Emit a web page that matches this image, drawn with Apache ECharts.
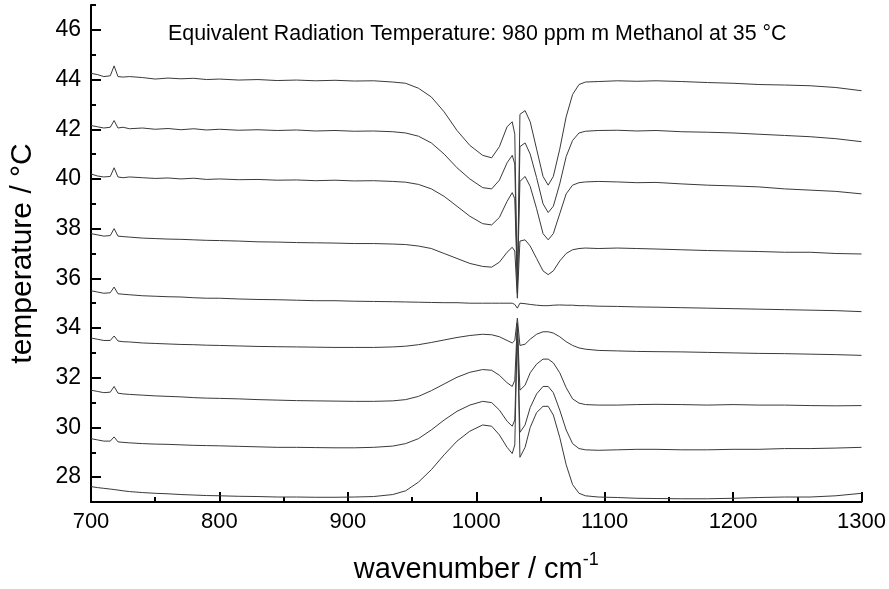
<!DOCTYPE html>
<html>
<head>
<meta charset="utf-8">
<script src="https://cdn.jsdelivr.net/npm/echarts@6/dist/echarts.min.js"></script>
<style>
  html, body { margin: 0; padding: 0; background: #fff; }
  #chart { width: 889px; height: 589px; }
</style>
</head>
<body>
<div id="chart"></div>
<script>
// shared wavenumber grid (cm-1)
var wn = [700, 705, 710, 715, 718, 721, 725, 730, 740, 750, 760, 770, 780, 790, 800, 815, 830, 845, 860, 875, 890, 905, 920, 935, 945, 955, 965, 975, 985, 995, 1005, 1012, 1018, 1024, 1028, 1030, 1032, 1034, 1038, 1042, 1047, 1052, 1056, 1060, 1065, 1070, 1075, 1080, 1085, 1095, 1110, 1125, 1140, 1160, 1180, 1200, 1220, 1240, 1260, 1280, 1300];

// equivalent radiation temperature traces, top to bottom
var t44 = [44.25, 44.2, 44.12, 44.15, 44.55, 44.12, 44.1, 44.12, 44.08, 44.02, 44.06, 44.03, 44.05, 44.0, 44.02, 43.98, 44.0, 43.96, 43.98, 43.95, 43.97, 43.94, 43.95, 43.9, 43.85, 43.65, 43.3, 42.7, 41.95, 41.35, 40.95, 40.85, 41.3, 42.1, 42.3, 41.8, 35.4, 42.6, 42.75, 42.3, 41.2, 40.1, 39.75, 40.1, 41.2, 42.5, 43.4, 43.8, 43.9, 43.92, 43.95, 43.93, 43.95, 43.92, 43.88, 43.85, 43.8, 43.78, 43.75, 43.68, 43.55];
var t42 = [42.15, 42.1, 42.05, 42.08, 42.35, 42.05, 42.08, 42.02, 42.05, 42.0, 42.03, 41.98, 42.02, 41.97, 42.0, 41.96, 41.98, 41.95, 41.97, 41.93, 41.95, 41.92, 41.93, 41.9, 41.85, 41.72, 41.45, 41.0, 40.45, 40.0, 39.65, 39.6, 39.95, 40.65, 40.95, 40.6, 35.6, 41.3, 41.45, 41.0, 40.05, 39.0, 38.65, 38.9, 39.8, 40.9, 41.55, 41.85, 41.92, 41.95, 41.96, 41.93, 41.95, 41.9, 41.88, 41.85, 41.8, 41.75, 41.7, 41.62, 41.5];
var t40 = [40.2, 40.12, 40.08, 40.1, 40.45, 40.08, 40.05, 40.08, 40.05, 40.02, 40.04, 40.0, 40.03, 39.98, 40.0, 39.97, 39.98, 39.95, 39.96, 39.93, 39.95, 39.92, 39.93, 39.9, 39.87, 39.78, 39.6, 39.3, 38.9, 38.5, 38.2, 38.15, 38.45, 39.1, 39.45, 39.2, 35.8, 39.9, 40.1, 39.7, 38.8, 37.8, 37.55, 37.8, 38.6, 39.4, 39.75, 39.85, 39.88, 39.9, 39.88, 39.85, 39.86, 39.8, 39.75, 39.72, 39.68, 39.6, 39.55, 39.5, 39.4];
var t38 = [37.8, 37.75, 37.7, 37.72, 38.0, 37.7, 37.68, 37.66, 37.62, 37.6, 37.58, 37.57, 37.55, 37.53, 37.52, 37.5, 37.47, 37.46, 37.44, 37.43, 37.42, 37.4, 37.4, 37.38, 37.36, 37.3, 37.2, 37.0, 36.8, 36.6, 36.48, 36.45, 36.65, 37.05, 37.25, 37.1, 35.2, 37.5, 37.55, 37.3, 36.8, 36.3, 36.15, 36.3, 36.7, 37.0, 37.15, 37.2, 37.22, 37.2, 37.22, 37.2, 37.18, 37.15, 37.12, 37.1, 37.08, 37.05, 37.05, 37.0, 36.98];
var t35 = [35.5, 35.45, 35.4, 35.42, 35.65, 35.38, 35.36, 35.34, 35.3, 35.28, 35.26, 35.25, 35.22, 35.2, 35.2, 35.17, 35.15, 35.14, 35.12, 35.1, 35.1, 35.08, 35.07, 35.06, 35.05, 35.04, 35.03, 35.02, 35.02, 35.0, 35.0, 35.0, 35.0, 35.0, 35.0, 34.95, 34.8, 35.0, 34.98, 34.95, 34.92, 34.9, 34.9, 34.92, 34.93, 34.92, 34.92, 34.9, 34.9, 34.88, 34.87, 34.85, 34.84, 34.82, 34.8, 34.78, 34.76, 34.74, 34.72, 34.7, 34.66];
var t33 = [33.6, 33.55, 33.5, 33.5, 33.68, 33.48, 33.45, 33.44, 33.4, 33.38, 33.36, 33.34, 33.33, 33.31, 33.3, 33.28, 33.26, 33.25, 33.24, 33.23, 33.22, 33.22, 33.22, 33.24, 33.27, 33.33, 33.42, 33.52, 33.62, 33.7, 33.75, 33.73, 33.65, 33.5, 33.4, 33.5, 34.4, 33.3, 33.35, 33.55, 33.75, 33.85, 33.85, 33.8, 33.65, 33.45, 33.3, 33.2, 33.15, 33.1, 33.08, 33.06, 33.05, 33.04, 33.02, 33.0, 32.98, 32.97, 32.95, 32.93, 32.9];
var t31 = [31.5, 31.45, 31.4, 31.42, 31.65, 31.38, 31.35, 31.33, 31.3, 31.27, 31.25, 31.23, 31.2, 31.18, 31.17, 31.15, 31.12, 31.1, 31.08, 31.07, 31.06, 31.05, 31.05, 31.07, 31.12, 31.25, 31.48, 31.75, 32.02, 32.22, 32.33, 32.3, 32.1, 31.8, 31.65, 31.9, 34.2, 31.5, 31.7, 32.2, 32.55, 32.75, 32.75, 32.6, 32.2, 31.6, 31.15, 30.98, 30.92, 30.9, 30.9, 30.92, 30.93, 30.92, 30.9, 30.92, 30.9, 30.9, 30.88, 30.87, 30.88];
var t29 = [29.55, 29.5, 29.45, 29.45, 29.62, 29.42, 29.4, 29.38, 29.35, 29.33, 29.32, 29.3, 29.28, 29.27, 29.26, 29.24, 29.22, 29.2, 29.2, 29.19, 29.18, 29.18, 29.2, 29.25, 29.35, 29.55, 29.9, 30.3, 30.65, 30.9, 31.05, 31.0, 30.7, 30.25, 30.05, 30.3, 34.0, 29.8, 30.1, 30.8, 31.35, 31.65, 31.65, 31.4, 30.7, 29.9, 29.35, 29.15, 29.1, 29.08, 29.1, 29.12, 29.12, 29.1, 29.1, 29.12, 29.12, 29.15, 29.15, 29.17, 29.2];
var t27 = [27.62, 27.58, 27.55, 27.52, 27.5, 27.48, 27.45, 27.42, 27.38, 27.35, 27.33, 27.3, 27.28, 27.26, 27.25, 27.23, 27.22, 27.2, 27.2, 27.19, 27.19, 27.2, 27.22, 27.3, 27.45, 27.8, 28.3, 28.9, 29.45, 29.85, 30.1, 30.05, 29.7, 29.2, 28.95, 29.3, 34.2, 28.8, 29.2, 30.0, 30.6, 30.85, 30.85, 30.5, 29.6, 28.5, 27.7, 27.35, 27.25, 27.2, 27.18, 27.15, 27.14, 27.13, 27.13, 27.15, 27.18, 27.2, 27.2, 27.25, 27.35];

var traces = [t44, t42, t40, t38, t35, t33, t31, t29, t27];

var yMajor = [28, 30, 32, 34, 36, 38, 40, 42, 44, 46];
var yMinor = [29, 31, 33, 35, 37, 39, 41, 43, 45, 47];

var myChart = echarts.init(document.getElementById('chart'));

function pairs(ys) {
    return wn.map(function (x, i) { return [x, ys[i]]; });
}

var series = traces.map(function (ys) {
    return {
        type: 'line',
        xAxisIndex: 0,
        yAxisIndex: 0,
        data: pairs(ys),
        showSymbol: false,
        animation: false,
        lineStyle: { color: '#3a3a3a', width: 1 }
    };
});

var option = {
    backgroundColor: '#fff',
    textStyle: { fontFamily: 'Liberation Sans, Arial, sans-serif' },
    title: {
        text: 'Equivalent Radiation Temperature: 980 ppm m Methanol at 35 °C',
        left: 163,
        top: 19,
        textStyle: { fontSize: 21.4, fontWeight: 'normal', color: '#000' }
    },
    grid: { left: 91, right: 27, top: 5, bottom: 84 },
    xAxis: {
        type: 'value',
        min: 700,
        max: 1300,
        interval: 100,
        name: '{a|wavenumber / cm}{s|-1}',
        nameLocation: 'middle',
        nameGap: 49,
        nameTextStyle: {
            rich: {
                a: { fontSize: 29, color: '#000', fontFamily: 'Liberation Sans' },
                s: { fontSize: 18, color: '#000', fontFamily: 'Liberation Sans', verticalAlign: 'top', padding: [0, 0, 19, 0] }
            }
        },
        axisLine: { lineStyle: { color: '#000', width: 2 } },
        axisTick: { inside: true, length: 10, lineStyle: { color: '#000', width: 2 } },
        minorTick: { show: true, splitNumber: 2, length: 5, lineStyle: { color: '#000', width: 2 } },
        axisLabel: { fontSize: 22, color: '#000', margin: 9, formatter: function (v) { return String(v); } },
        splitLine: { show: false }
    },
    yAxis: [{
        type: 'value',
        min: 27,
        max: 47,
        interval: 1,
        name: 'temperature / °C',
        nameLocation: 'middle',
        nameGap: 53,
        nameTextStyle: { fontSize: 30, color: '#000' },
        axisLine: { lineStyle: { color: '#000', width: 2 } },
        axisTick: { inside: true, length: 10, customValues: yMajor, lineStyle: { color: '#000', width: 2 } },
        axisLabel: { fontSize: 23, color: '#000', margin: 10, customValues: yMajor },
        splitLine: { show: false }
    }, {
        type: 'value',
        position: 'left',
        min: 27,
        max: 47,
        interval: 1,
        axisLine: { show: false },
        axisTick: { inside: true, length: 5, customValues: yMinor, lineStyle: { color: '#000', width: 2 } },
        axisLabel: { show: false },
        splitLine: { show: false }
    }],
    series: series
};

myChart.setOption(option);
</script>
</body>
</html>
